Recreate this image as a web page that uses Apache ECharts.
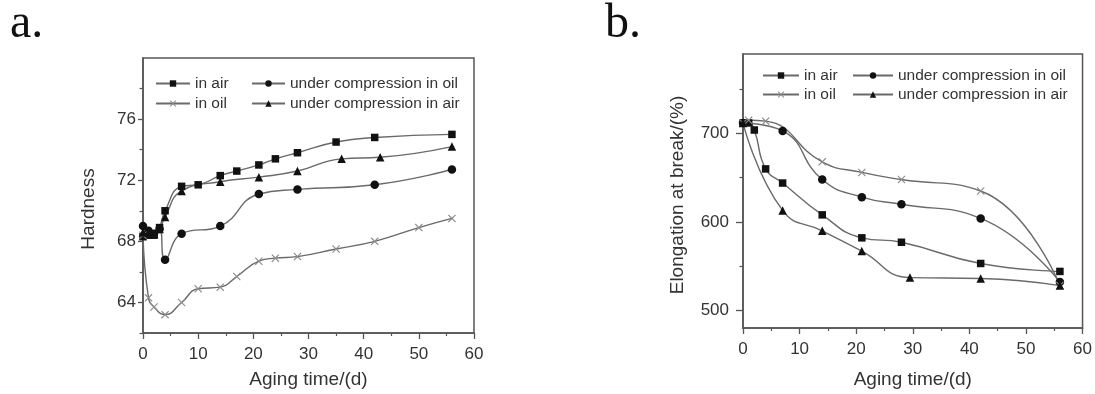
<!DOCTYPE html>
<html><head><meta charset="utf-8">
<script src="https://cdn.jsdelivr.net/npm/echarts@6/dist/echarts.min.js"></script>
<style>html,body{margin:0;padding:0;background:#fff}#c{width:1095px;height:394px}</style>
</head><body><div id="c"></div>
<script>
// ---------- shared ----------
const seriesNames = ['in air', 'under compression in oil', 'in oil', 'under compression in air'];
const xAxisTitle = 'Aging time/(d)';

// ---------- panel a : Hardness ----------
const aInAirDays = [0, 1, 2, 3, 4, 7, 10, 14, 17, 21, 24, 28, 35, 42, 56];
const aInAirVals = [68.3, 68.4, 68.4, 68.9, 70.0, 71.6, 71.7, 72.3, 72.6, 73.0, 73.4, 73.8, 74.5, 74.8, 75.0];
const aCompOilDays = [0, 1, 2, 3, 4, 7, 14, 21, 28, 42, 56];
const aCompOilVals = [69.0, 68.7, 68.5, 68.8, 66.8, 68.5, 69.0, 71.1, 71.4, 71.7, 72.7];
const aInOilDays = [0, 1, 2, 4, 7, 10, 14, 17, 21, 24, 28, 35, 42, 50, 56];
const aInOilVals = [68.4, 64.3, 63.7, 63.2, 64.0, 64.9, 65.0, 65.7, 66.7, 66.9, 67.0, 67.5, 68.0, 68.9, 69.5];
const aCompAirDays = [0, 1, 2, 3, 4, 7, 14, 21, 28, 36, 43, 56];
const aCompAirVals = [68.6, 68.6, 68.5, 68.8, 69.6, 71.3, 71.9, 72.2, 72.6, 73.4, 73.5, 74.2];
const aYMajor = [64, 68, 72, 76];
const aYMinor = [62, 66, 70, 74, 78];
const aYTitle = 'Hardness';

// ---------- panel b : Elongation at break ----------
const bInAirDays = [0, 1, 2, 4, 7, 14, 21, 28, 42, 56];
const bInAirVals = [712, 712, 704, 660, 644, 608, 582, 577, 553, 544];
const bCompOilDays = [0, 7, 14, 21, 28, 42, 56];
const bCompOilVals = [712, 703, 648, 628, 620, 604, 532];
const bInOilDays = [0, 1, 4, 14, 21, 28, 42, 56];
const bInOilVals = [712, 715, 714, 668, 656, 648, 635, 528];
const bCompAirDays = [0, 7, 14, 21, 29.5, 42, 56];
const bCompAirVals = [712, 613, 590, 567, 537, 536, 528];
const bYMajor = [500, 600, 700];
const bYMinor = [550, 650, 750];
const bYTitle = 'Elongation at break/(%)';

// ---------- build ----------
const zip = (xs, ys) => xs.map((x, i) => [x, ys[i]]);
const FONT = 'Liberation Sans, Arial, sans-serif';
const AX = '#555';
const LINE = '#6a6a6a';
const MARK = '#111';
const XMARK = '#8c8c8c';
const crossPath = 'path://M0,1L1,0L5,4L9,0L10,1L6,5L10,9L9,10L5,6L1,10L0,9L4,5Z';

const symbols = {
  'in air': { symbol: 'rect', size: 7.5, color: MARK },
  'under compression in oil': { symbol: 'circle', size: 8.5, color: MARK },
  'in oil': { symbol: crossPath, size: 8, color: XMARK },
  'under compression in air': { symbol: 'triangle', size: 8.5, color: MARK }
};

function mkSeries(name, data, xi, yi) {
  const s = symbols[name];
  return {
    type: 'line', name, xAxisIndex: xi, yAxisIndex: yi, data,
    smooth: 0.5,
    symbol: s.symbol, symbolSize: s.size, symbolKeepAspect: true,
    showSymbol: true, showAllSymbol: true,
    lineStyle: { color: LINE, width: 1.4 },
    itemStyle: { color: s.color, borderWidth: 0 },
    z: 3
  };
}

function xAxis(gi, gap) {
  return {
    type: 'value', gridIndex: gi, min: 0, max: 60, interval: 10,
    axisLine: { show: true, lineStyle: { color: AX, width: 1.5 } },
    axisTick: { show: true, length: 6, lineStyle: { color: AX, width: 1.3 } },
    minorTick: { show: true, splitNumber: 2, length: 3, lineStyle: { color: AX, width: 1.2 } },
    axisLabel: { margin: 13, fontSize: 17, color: '#333', fontFamily: FONT },
    splitLine: { show: false },
    name: xAxisTitle, nameLocation: 'middle', nameGap: gap,
    nameTextStyle: { fontSize: 19, color: '#333', fontFamily: FONT }
  };
}

function yAxes(gi, min, max, major, minor, tickLen, margin) {
  return [{
    type: 'value', gridIndex: gi, position: 'left', min, max,
    axisLine: { show: true, lineStyle: { color: AX, width: 1.5 } },
    axisTick: { show: true, length: tickLen, customValues: major, lineStyle: { color: AX, width: 1.3 } },
    axisLabel: { show: true, customValues: major, margin, fontSize: 17, color: '#333', fontFamily: FONT },
    splitLine: { show: false }
  }, {
    type: 'value', gridIndex: gi, position: 'left', offset: 0, min, max,
    axisLine: { show: false },
    axisTick: { show: true, length: 3.5, customValues: minor, lineStyle: { color: AX, width: 1.2 } },
    axisLabel: { show: false },
    splitLine: { show: false }
  }];
}

function legend(names, left, top, iw, gap) {
  return {
    orient: 'vertical', left, top, data: names, padding: 0,
    itemWidth: iw, itemHeight: 8, itemGap: gap, selectedMode: false,
    textStyle: { fontSize: 15.5, color: '#333', fontFamily: FONT, lineHeight: 17 }
  };
}

const option = {
  animation: false,
  backgroundColor: '#fff',
  grid: [
    { left: 143, top: 58, width: 331, height: 276, show: true, borderColor: AX, borderWidth: 1.5, backgroundColor: 'transparent' },
    { left: 743, top: 54, width: 340, height: 274, show: true, borderColor: AX, borderWidth: 1.5, backgroundColor: 'transparent' }
  ],
  xAxis: [xAxis(0, 37), xAxis(1, 42)],
  yAxis: [
    ...yAxes(0, 62, 80, aYMajor, aYMinor, 5, 7),
    ...yAxes(1, 480, 790, bYMajor, bYMinor, 7, 14)
  ],
  legend: [
    legend([seriesNames[0], seriesNames[2]], 155, 75, 34, 3),
    legend([seriesNames[1], seriesNames[3]], 251, 75, 33, 3),
    legend([seriesNames[0], seriesNames[2]], 762, 67, 36, 2),
    legend([seriesNames[1], seriesNames[3]], 852, 67, 40, 2)
  ],
  graphic: [
    { type: 'text', left: 10, top: 0, style: { text: 'a.', font: '48px "Liberation Serif", "Times New Roman", serif', fill: '#111' } },
    { type: 'text', left: 605, top: 0, style: { text: 'b.', font: '48px "Liberation Serif", "Times New Roman", serif', fill: '#111' } },
    { type: 'text', x: 89, y: 209, rotation: Math.PI / 2, style: { text: aYTitle, font: '19px ' + FONT, fill: '#333', align: 'center', verticalAlign: 'middle' } },
    { type: 'text', x: 678, y: 195, rotation: Math.PI / 2, style: { text: bYTitle, font: '19px ' + FONT, fill: '#333', align: 'center', verticalAlign: 'middle' } }
  ],
  series: [
    mkSeries(seriesNames[0], zip(aInAirDays, aInAirVals), 0, 0),
    mkSeries(seriesNames[1], zip(aCompOilDays, aCompOilVals), 0, 0),
    mkSeries(seriesNames[2], zip(aInOilDays, aInOilVals), 0, 0),
    mkSeries(seriesNames[3], zip(aCompAirDays, aCompAirVals), 0, 0),
    mkSeries(seriesNames[0], zip(bInAirDays, bInAirVals), 1, 2),
    mkSeries(seriesNames[1], zip(bCompOilDays, bCompOilVals), 1, 2),
    mkSeries(seriesNames[2], zip(bInOilDays, bInOilVals), 1, 2),
    mkSeries(seriesNames[3], zip(bCompAirDays, bCompAirVals), 1, 2)
  ]
};

const chart = echarts.init(document.getElementById('c'), null, { renderer: 'canvas' });
chart.setOption(option);
</script>
</body></html>
